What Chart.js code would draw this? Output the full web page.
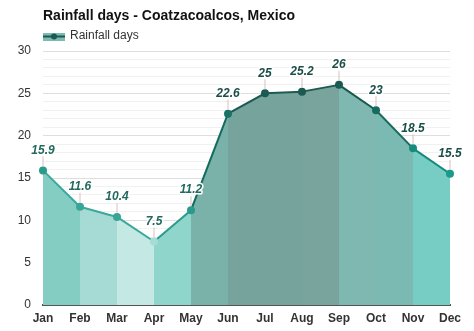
<!DOCTYPE html>
<html>
<head>
<meta charset="utf-8">
<script src="https://cdn.jsdelivr.net/npm/chart.js@4"></script>
<style>
  html, body { margin: 0; padding: 0; background: #fff; }
  #wrap { width: 474px; height: 331px; position: relative; }
</style>
</head>
<body>
<div id="wrap"><canvas id="rain"></canvas></div>
<script>
const months = ['Jan', 'Feb', 'Mar', 'Apr', 'May', 'Jun', 'Jul', 'Aug', 'Sep', 'Oct', 'Nov', 'Dec'];
const rainDays = [15.9, 11.6, 10.4, 7.5, 11.2, 22.6, 25, 25.2, 26, 23, 18.5, 15.5];
const yTicks = [0, 5, 10, 15, 20, 25, 30];

// colour per month band (band i runs from month i to month i+1)
const bandFill = ['#83cdc3', '#a5dbd4', '#c4e8e4', '#8fd5cb', '#7ab1a9', '#76a39c', '#76a39c', '#78a49d',
                  '#7eb8b0', '#7bbab2', '#77ccc3'];
const bandLine = ['#3aa99a', '#3aa99a', '#3aa99a', '#2a9a8b', '#116b5e', '#1d5a51', '#1d5a51', '#1d5a51',
                  '#17594f', '#1c6a5f', '#138a7c'];
const dotColor = ['#2a9a8b', '#3aa597', '#3aa597', '#a6dcd4', '#2a9a8b', '#1a7265', '#1b5a50', '#1b5a50',
                  '#1b5a50', '#166b5e', '#168c7e', '#1a9a8b'];

const FONT = '"Liberation Sans", Arial, sans-serif';

// title, legend and value labels
const decor = {
  id: 'decor',
  afterDraw(chart) {
    const ctx = chart.ctx;
    const meta = chart.getDatasetMeta(0);
    ctx.save();
    meta.data.forEach((pt, i) => {
      const txt = String(rainDays[i]);
      const ly = pt.y - 20;
      ctx.strokeStyle = '#d9bfc0';
      ctx.lineWidth = 1;
      ctx.beginPath();
      ctx.moveTo(pt.x, ly + 6);
      ctx.lineTo(pt.x, pt.y - 4);
      ctx.stroke();
      ctx.font = 'italic bold 12px ' + FONT;
      ctx.textAlign = 'center';
      ctx.textBaseline = 'middle';
      ctx.lineJoin = 'round';
      ctx.lineWidth = 3;
      ctx.strokeStyle = '#ffffff';
      ctx.strokeText(txt, pt.x, ly);
      ctx.fillStyle = i < 5 ? '#24695f' : '#1a4f48';
      ctx.fillText(txt, pt.x, ly);
    });

    ctx.font = 'bold 14px ' + FONT;
    ctx.fillStyle = '#111';
    ctx.textBaseline = 'middle';
    ctx.textAlign = 'left';
    ctx.fillText('Rainfall days - Coatzacoalcos, Mexico', 43, 16);

    // legend swatch
    ctx.fillStyle = '#7dbab1';
    ctx.fillRect(43, 33, 22, 8);
    ctx.strokeStyle = '#1b5a50';
    ctx.lineWidth = 2;
    ctx.beginPath();
    ctx.moveTo(43, 36.5);
    ctx.lineTo(65, 36.5);
    ctx.stroke();
    ctx.fillStyle = '#1b5a50';
    ctx.beginPath();
    ctx.arc(54, 36.5, 3, 0, Math.PI * 2);
    ctx.fill();
    ctx.font = '12px ' + FONT;
    ctx.fillStyle = '#333';
    ctx.fillText('Rainfall days', 70, 36);
    ctx.restore();
  }
};

new Chart(document.getElementById('rain'), {
  type: 'line',
  data: {
    labels: months,
    datasets: [{
      label: 'Rainfall days',
      data: rainDays,
      fill: 'origin',
      borderWidth: 2,
      tension: 0,
      pointRadius: 4,
      pointHoverRadius: 4,
      pointBorderWidth: 0,
      pointBackgroundColor: dotColor,
      segment: {
        backgroundColor: c => bandFill[c.p0DataIndex],
        borderColor: c => bandLine[c.p0DataIndex]
      }
    }]
  },
  options: {
    responsive: true,
    maintainAspectRatio: false,
    animation: false,
    devicePixelRatio: 1,
    layout: { padding: { top: 51, right: 24, left: 0, bottom: 0 } },
    plugins: {
      legend: { display: false },
      title: { display: false },
      tooltip: { enabled: false }
    },
    scales: {
      x: {
        offset: false,
        grid: { display: false, drawTicks: false },
        border: { color: '#555', width: 2 },
        ticks: {
          color: '#333',
          font: { family: FONT, size: 12, weight: 'bold' },
          padding: 6,
          maxRotation: 0,
          autoSkip: false
        },
        afterFit: s => { s.height = 26; }
      },
      y: {
        min: 0,
        max: 30,
        z: 1,
        border: { display: false },
        grid: {
          drawTicks: false,
          color: c => (yTicks.includes(c.tick.value) ? 'rgba(0,0,0,0.13)' : 'rgba(0,0,0,0.055)'),
          lineWidth: 1
        },
        ticks: {
          stepSize: 1,
          autoSkip: false,
          color: '#333',
          font: { family: FONT, size: 12 },
          padding: 12,
          callback: v => (yTicks.includes(v) ? v : '')
        },
        afterFit: s => { s.width = 43; }
      }
    }
  },
  plugins: [decor]
});
</script>
</body>
</html>
